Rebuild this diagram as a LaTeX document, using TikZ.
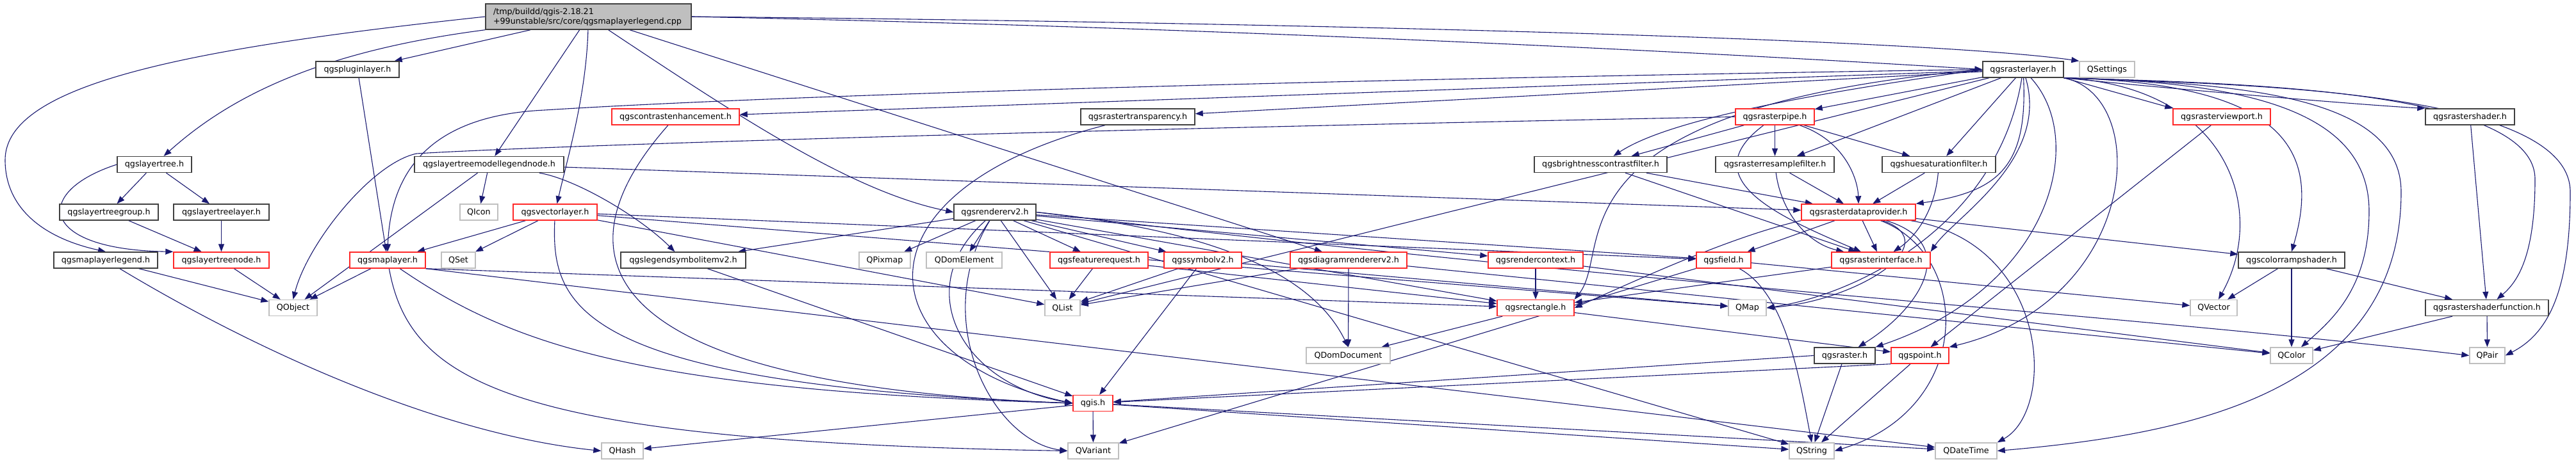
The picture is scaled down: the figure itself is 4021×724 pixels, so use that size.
\documentclass[tikz,border=0pt]{standalone}
\usepackage{fontspec}
\setmainfont{DejaVu Sans}
\usetikzlibrary{arrows.meta}
\definecolor{edgec}{RGB}{25,25,112}
\definecolor{mainfill}{RGB}{191,191,191}
\definecolor{grayb}{RGB}{191,191,191}
\definecolor{blackb}{RGB}{64,64,64}
\definecolor{redb}{RGB}{255,40,40}
\newcommand{\nodefnt}{\fontsize{12.7}{15}\selectfont}
\pgfdeclarelayer{edges}
\pgfsetlayers{edges,main}
\tikzset{
 box/.style={draw, line width=1.4pt, fill=white, minimum height=25pt, inner sep=1pt, font=\nodefnt},
 nb/.style={box, draw=blackb},
 nr/.style={box, draw=redb},
 ng/.style={box, draw=grayb},
 mainbox/.style={draw=blackb, line width=1.4pt, fill=mainfill, align=left, text width=297pt, inner xsep=12pt, inner ysep=4pt, minimum height=40pt, font=\nodefnt},
 e/.style={draw=edgec, line width=1.1pt, -{Triangle[length=12pt,width=9pt]}}
}
\begin{document}
\begin{tikzpicture}[x=1pt,y=-1pt]
\useasboundingbox (0,0) rectangle (4021,724);
% main
\node[mainbox] (main) at (918.5,26) {/tmp/buildd/qgis-2.18.21\\+99unstable/src/core/qgsmaplayerlegend.cpp};
% row A
\node[nb, minimum width=130pt] (pluginlayer) at (558,108.5) {qgspluginlayer.h};
\node[nb, minimum width=126pt] (rasterlayer) at (3158,108.5) {qgsrasterlayer.h};
\node[ng, minimum width=86pt] (QSettings) at (3289,108.5) {QSettings};
% row B
\node[nr, minimum width=199pt] (contrast) at (1054.5,182.5) {qgscontrastenhancement.h};
\node[nb, minimum width=178pt] (transparency) at (1776,182.5) {qgsrastertransparency.h};
\node[nr, minimum width=123pt] (rasterpipe) at (2770.5,182.5) {qgsrasterpipe.h};
\node[nr, minimum width=152pt] (viewport) at (3468,182.5) {qgsrasterviewport.h};
\node[nb, minimum width=139pt] (rastershader) at (3855.5,182.5) {qgsrastershader.h};
% row C
\node[nb, minimum width=116pt] (layertree) at (241,257) {qgslayertree.h};
\node[nb, minimum width=233pt] (ltmln) at (763.5,257) {qgslayertreemodellegendnode.h};
\node[nb, minimum width=207pt] (brightness) at (2498.5,257) {qgsbrightnesscontrastfilter.h};
\node[nb, minimum width=185pt] (resample) at (2770.5,257) {qgsrasterresamplefilter.h};
\node[nb, minimum width=177pt] (huesat) at (3026.5,257) {qgshuesaturationfilter.h};
% row D
\node[nb, minimum width=154pt] (ltgroup) at (170,331.5) {qgslayertreegroup.h};
\node[nb, minimum width=149pt] (ltlayer) at (345.5,331.5) {qgslayertreelayer.h};
\node[ng, minimum width=59pt] (QIcon) at (747.5,331.5) {QIcon};
\node[nr, minimum width=131pt] (vectorlayer) at (866.5,331.5) {qgsvectorlayer.h};
\node[nb, minimum width=128pt] (rendererv2) at (1553,331.5) {qgsrendererv2.h};
\node[nr, minimum width=178pt] (rdp) at (2901,331.5) {qgsrasterdataprovider.h};
% row E
\node[nb, minimum width=162pt] (mlegend) at (165,406.5) {qgsmaplayerlegend.h};
\node[nr, minimum width=149pt] (ltnode) at (345.5,406.5) {qgslayertreenode.h};
\node[nr, minimum width=118pt] (maplayer) at (605,406.5) {qgsmaplayer.h};
\node[ng, minimum width=53pt] (QSet) at (715.5,406.5) {QSet};
\node[nb, minimum width=195pt] (legsym) at (1066.5,406.5) {qgslegendsymbolitemv2.h};
\node[ng, minimum width=80pt] (QPixmap) at (1381,406.5) {QPixmap};
\node[ng, minimum width=118pt] (QDomElement) at (1505,406.5) {QDomElement};
\node[nr, minimum width=153pt] (featreq) at (1715.5,406.5) {qgsfeaturerequest.h};
\node[nr, minimum width=121pt] (symbolv2) at (1877.5,406.5) {qgssymbolv2.h};
\node[nr, minimum width=182pt] (diagram) at (2105,406.5) {qgsdiagramrendererv2.h};
\node[nr, minimum width=148pt] (rendercontext) at (2397,406.5) {qgsrendercontext.h};
\node[nr, minimum width=85pt] (field) at (2690.5,406.5) {qgsfield.h};
\node[nr, minimum width=154pt] (rasterinterface) at (2936,406.5) {qgsrasterinterface.h};
\node[nb, minimum width=166pt] (colorramp) at (3577,406.5) {qgscolorrampshader.h};
% row F
\node[ng, minimum width=75pt] (QObject) at (457.5,481) {QObject};
\node[ng, minimum width=55pt] (QList) at (1658.5,481) {QList};
\node[nr, minimum width=120pt] (rectangle) at (2397,481) {qgsrectangle.h};
\node[ng, minimum width=59pt] (QMap) at (2727.5,481) {QMap};
\node[ng, minimum width=73pt] (QVector) at (3455.5,481) {QVector};
\node[nb, minimum width=192pt] (shaderfunc) at (3882,481) {qgsrastershaderfunction.h};
% row G
\node[ng, minimum width=131pt] (QDomDocument) at (2104.5,555.5) {QDomDocument};
\node[nb, minimum width=95pt] (raster) at (2879.5,555.5) {qgsraster.h};
\node[nr, minimum width=90pt] (point) at (2997,555.5) {qgspoint.h};
\node[ng, minimum width=66pt] (QColor) at (3577,555.5) {QColor};
\node[ng, minimum width=55pt] (QPair) at (3882.5,555.5) {QPair};
% row G'
\node[nr, minimum width=62pt] (qgis) at (1706,630) {qgis.h};
% row H
\node[ng, minimum width=65pt] (QHash) at (971.5,704.5) {QHash};
\node[ng, minimum width=79pt] (QVariant) at (1706.5,704.5) {QVariant};
\node[ng, minimum width=70pt] (QString) at (2828,704.5) {QString};
\node[ng, minimum width=96pt] (QDateTime) at (3069,704.5) {QDateTime};

\begin{pgfonlayer}{edges}
\foreach \s/\t in {
main/pluginlayer, main/ltmln, main/diagram,
mlegend/QObject,
layertree/ltgroup, layertree/ltlayer, ltgroup/ltnode, ltlayer/ltnode, ltnode/QObject,
pluginlayer/maplayer,
ltmln/QIcon, ltmln/QObject, ltmln/rdp,
vectorlayer/maplayer, vectorlayer/QSet, vectorlayer/QList, vectorlayer/field, vectorlayer/QMap,
maplayer/QObject,
legsym/qgis,
rendererv2/legsym, rendererv2/QPixmap, rendererv2/QDomElement, rendererv2/QList, rendererv2/featreq, rendererv2/symbolv2, rendererv2/rectangle, rendererv2/rendercontext, rendererv2/field, rendererv2/QString,
featreq/QList, featreq/rectangle,
symbolv2/QList, symbolv2/qgis, symbolv2/QMap,
diagram/QDomDocument, diagram/QList, diagram/QColor,
rendercontext/rectangle, rendercontext/QColor,
rectangle/QDomDocument, rectangle/point,
field/QVariant, field/QVector,
point/QString, raster/QString,
rasterinterface/rectangle,
rdp/field, rdp/rasterinterface, rdp/colorramp,
rasterpipe/brightness, rasterpipe/resample, rasterpipe/huesat,
brightness/rdp, brightness/rasterinterface, resample/rdp, huesat/rdp,
colorramp/QVector, colorramp/QColor, colorramp/shaderfunc,
rastershader/shaderfunc, shaderfunc/QColor, shaderfunc/QPair,
viewport/point,
qgis/QHash, qgis/QVariant, qgis/QString, qgis/QDateTime,
rasterlayer/rasterpipe, rasterlayer/contrast, rasterlayer/transparency, rasterlayer/resample, rasterlayer/huesat, rasterlayer/QList}
 \draw[e] (\s) -- (\t);

\draw[e] (main.west) .. controls (300,75) and (8,130) .. (8,250) .. controls (8,320) and (60,370) .. (mlegend.north);
\draw[e] (main.south west) .. controls (500,80) and (360,150) .. (layertree);
\draw[e] (main) .. controls (915,150) and (885,250) .. (vectorlayer);
\draw[e] (main) .. controls (1150,180) and (1330,300) .. (rendererv2.west);
\draw[e] (main.east) .. controls (2000,45) and (2800,90) .. (rasterlayer.west);
\draw[e] (main.east) .. controls (2000,35) and (3000,60) .. (QSettings.north west);
\draw[e] (mlegend) .. controls (420,560) and (700,680) .. (QHash.west);
\draw[e] (layertree.west) .. controls (50,300) and (60,390) .. (ltnode.north west);
\draw[e] (ltmln) .. controls (900,280) and (1000,340) .. (legsym);
\draw[e] (vectorlayer) .. controls (860,480) and (900,600) .. (qgis.west);
\draw[e] (maplayer) .. controls (800,540) and (1000,610) .. (qgis.west);
\draw[e] (maplayer) .. controls (640,600) and (800,690) .. (QVariant.west);
\draw[e] (maplayer.south east) -- (QDateTime);
\draw[e] (maplayer.south east) -- (rectangle);
\draw[e] (contrast) .. controls (880,380) and (880,600) .. (qgis.west);
\draw[e] (transparency) .. controls (1320,300) and (1350,560) .. (qgis.west);
\draw[e] (rendererv2) .. controls (1420,450) and (1500,600) .. (qgis.west);
\draw[e] (rendererv2) .. controls (1450,500) and (1550,690) .. (QVariant.west);
\draw[e] (rendererv2.east) .. controls (1900,360) and (2050,430) .. (QDomDocument.north);
\draw[e] (rendererv2.east) .. controls (2500,440) and (3300,490) .. (QPair.west);
\draw[e] (field) .. controls (2790,460) and (2810,600) .. (QString.north);
\draw[e] (point.south west) -- (qgis);
\draw[e] (raster.west) -- (qgis);
\draw[e] (rdp) .. controls (3060,380) and (3000,480) .. (raster);
\draw[e] (rdp) .. controls (3040,380) and (2900,470) .. (QMap.east);
\draw[e] (rdp) .. controls (3080,400) and (3080,640) .. (QString.east);
\draw[e] (rdp) .. controls (3200,380) and (3210,640) .. (QDateTime.north east);
\draw[e] (rdp.south west) .. controls (2700,370) and (2550,440) .. (rectangle.east);
\draw[e] (rasterpipe.west) .. controls (1800,200) and (900,225) .. (650,240) .. controls (580,255) and (480,380) .. (QObject.north);
\draw[e] (rasterpipe) .. controls (2640,280) and (2780,340) .. (rasterinterface);
\draw[e] (rasterpipe) .. controls (2880,220) and (2900,280) .. (rdp.north);
\draw[e] (resample) .. controls (2780,330) and (2820,380) .. (rasterinterface);
\draw[e] (huesat) .. controls (3020,330) and (2990,370) .. (rasterinterface);
\draw[e] (rasterlayer.west) .. controls (2000,125) and (1200,150) .. (850,172) .. controls (680,180) and (610,260) .. (maplayer.north);
\draw[e] (rasterlayer.west) .. controls (2800,150) and (2600,190) .. (brightness);
\draw[e] (rasterlayer) .. controls (3200,250) and (3050,340) .. (rasterinterface.north east);
\draw[e] (rasterlayer) .. controls (3165,260) and (3120,300) .. (rdp.north east);
\draw[e] (rasterlayer) .. controls (3260,220) and (3200,450) .. (raster.north east);
\draw[e] (rasterlayer.south east) .. controls (3360,150) and (3340,470) .. (point.north east);
\draw[e] (rasterlayer.south east) -- (viewport.north west);
\draw[e] (rasterlayer.south east) .. controls (3400,140) and (3700,165) .. (rastershader.north west);
\draw[e] (rasterlayer.south east) .. controls (3480,135) and (3540,330) .. (QVector);
\draw[e] (rasterlayer.south east) .. controls (3560,130) and (3625,230) .. (colorramp.north);
\draw[e] (rasterlayer.south east) .. controls (3500,128) and (3698,170) .. (3698,330) .. controls (3698,450) and (3640,500) .. (QColor);
\draw[e] (rasterlayer.south east) .. controls (3500,130) and (3748,150) .. (3748,300) .. controls (3748,620) and (3400,680) .. (QDateTime.east);
\draw[e] (rasterlayer.south east) .. controls (3500,130) and (3957,140) .. (3957,280) .. controls (3957,400) and (3930,440) .. (shaderfunc);
\draw[e] (rasterlayer.south east) .. controls (3500,132) and (4012,140) .. (4012,300) .. controls (4012,450) and (3980,520) .. (QPair.east);
\draw[e] (rasterlayer.west) .. controls (2400,170) and (2520,390) .. (rectangle.north east);
\draw[e] (rasterlayer) .. controls (3120,350) and (2900,460) .. (QMap.east);
\end{pgfonlayer}
\end{tikzpicture}
\end{document}
